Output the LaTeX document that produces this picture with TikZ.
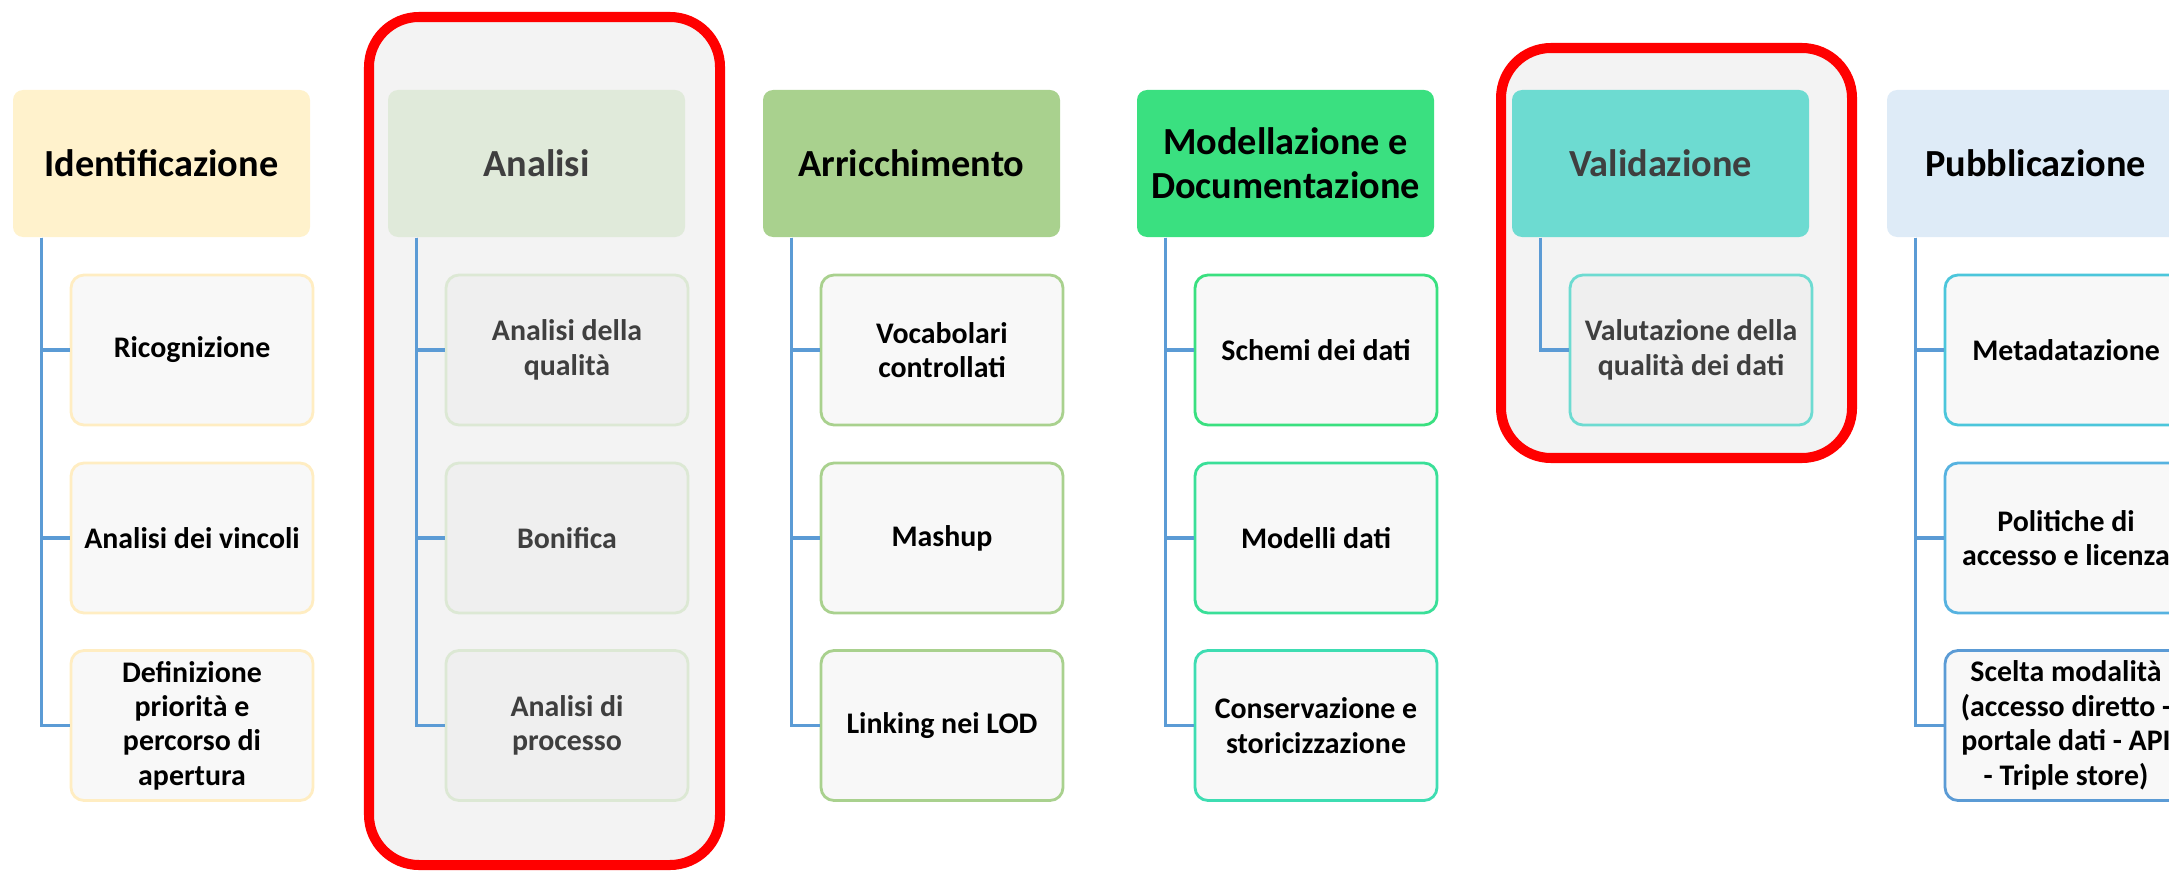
\documentclass[tikz,border=0pt]{standalone}
\usepackage{fontspec}
\setmainfont{Carlito}
\usepackage{tikz}
\usetikzlibrary{calc}

\definecolor{idfill}{HTML}{FFF2CC}
\definecolor{idline}{HTML}{FFEDC2}
\definecolor{anfill}{HTML}{E0EADA}
\definecolor{anline}{HTML}{DCE8D4}
\definecolor{arfill}{HTML}{A9D18E}
\definecolor{modfill}{HTML}{3AE080}
\definecolor{modlineb}{HTML}{3ADF98}
\definecolor{modlinec}{HTML}{3EDDB2}
\definecolor{valfill}{HTML}{6DDBD1}
\definecolor{pubfill}{HTML}{DEEBF7}
\definecolor{publinea}{HTML}{4CC6DB}
\definecolor{publineb}{HTML}{56B2E0}
\definecolor{publinec}{HTML}{5B9BD5}
\definecolor{linkblue}{HTML}{5B9BD5}
\definecolor{leafgray}{HTML}{F8F8F8}
\definecolor{dimgray}{HTML}{EFEFEF}
\definecolor{focusgray}{HTML}{F3F3F3}
\definecolor{dimtext}{HTML}{3F3F3F}
\definecolor{focusred}{HTML}{FF0000}

\tikzset{
    head/.style={rectangle, rounded corners=0.1cm, minimum width=2.97cm,
        minimum height=1.47cm, align=center, inner sep=2pt,
        font=\fontsize{10.9}{12.6}\selectfont\bfseries},
    leaf/.style={rectangle, rounded corners=0.13cm, draw, line width=0.8pt,
        fill=leafgray, minimum width=2.42cm, minimum height=1.50cm,
        align=center, inner sep=2pt,
        font=\fontsize{8.5}{9.8}\selectfont\bfseries},
    link/.style={draw=linkblue, line width=0.9pt},
    focus/.style={draw=focusred, line width=2.85pt, fill=focusgray,
        rounded corners=0.5cm}
}

\begin{document}
\begin{tikzpicture}
        \useasboundingbox (0,0) rectangle (21.69,-8.72);
        \clip (0,0) rectangle (21.69,-8.72);

        % Highlighted phases
        \draw[focus] (3.69,-0.17) rectangle (7.20,-8.65);
        \draw[focus] (15.01,-0.48) rectangle (18.52,-4.58);

        % Identificazione
        \node[head, fill=idfill] (idn) at (1.615,-1.635) {Identificazione};
        \node[leaf, draw=idline] (idn1) at (1.92,-3.50) {Ricognizione};
        \node[leaf, draw=idline] (idn2) at (1.92,-5.38) {Analisi dei vincoli};
        \node[leaf, draw=idline] (idn3) at (1.92,-7.255) {Definizione\\priorità e\\percorso di\\apertura};
        \draw[link] (idn.south west) ++(0.29,0) |- (idn1.west);
        \draw[link] (idn.south west) ++(0.29,0) |- (idn2.west);
        \draw[link] (idn.south west) ++(0.29,0) |- (idn3.west);

        % Analisi
        \node[head, fill=anfill, text=dimtext] (ana) at (5.365,-1.635) {Analisi};
        \node[leaf, draw=anline, fill=dimgray, text=dimtext] (ana1) at (5.67,-3.50) {Analisi della\\qualità};
        \node[leaf, draw=anline, fill=dimgray, text=dimtext] (ana2) at (5.67,-5.38) {Bonifica};
        \node[leaf, draw=anline, fill=dimgray, text=dimtext] (ana3) at (5.67,-7.255) {Analisi di\\processo};
        \draw[link] (ana.south west) ++(0.29,0) |- (ana1.west);
        \draw[link] (ana.south west) ++(0.29,0) |- (ana2.west);
        \draw[link] (ana.south west) ++(0.29,0) |- (ana3.west);

        % Arricchimento
        \node[head, fill=arfill] (arr) at (9.115,-1.635) {Arricchimento};
        \node[leaf, draw=arfill] (arr1) at (9.42,-3.50) {Vocabolari\\controllati};
        \node[leaf, draw=arfill] (arr2) at (9.42,-5.38) {Mashup};
        \node[leaf, draw=arfill] (arr3) at (9.42,-7.255) {Linking nei LOD};
        \draw[link] (arr.south west) ++(0.29,0) |- (arr1.west);
        \draw[link] (arr.south west) ++(0.29,0) |- (arr2.west);
        \draw[link] (arr.south west) ++(0.29,0) |- (arr3.west);

        % Modellazione e Documentazione
        \node[head, fill=modfill] (mod) at (12.855,-1.635) {Modellazione e\\Documentazione};
        \node[leaf, draw=modfill] (mod1) at (13.16,-3.50) {Schemi dei dati};
        \node[leaf, draw=modlineb] (mod2) at (13.16,-5.38) {Modelli dati};
        \node[leaf, draw=modlinec] (mod3) at (13.16,-7.255) {Conservazione e\\storicizzazione};
        \draw[link] (mod.south west) ++(0.29,0) |- (mod1.west);
        \draw[link] (mod.south west) ++(0.29,0) |- (mod2.west);
        \draw[link] (mod.south west) ++(0.29,0) |- (mod3.west);

        % Validazione
        \node[head, fill=valfill, text=dimtext] (val) at (16.605,-1.635) {Validazione};
        \node[leaf, draw=valfill, fill=dimgray, text=dimtext] (val1) at (16.91,-3.50) {Valutazione della\\qualità dei dati};
        \draw[link] (val.south west) ++(0.29,0) |- (val1.west);

        % Pubblicazione
        \node[head, fill=pubfill] (pub) at (20.355,-1.635) {Pubblicazione};
        \node[leaf, draw=publinea] (pub1) at (20.66,-3.50) {Metadatazione};
        \node[leaf, draw=publineb] (pub2) at (20.66,-5.38) {Politiche di\\accesso e licenza};
        \node[leaf, draw=publinec] (pub3) at (20.66,-7.255) {Scelta modalità\\(accesso diretto -\\portale dati - API\\- Triple store)};
        \draw[link] (pub.south west) ++(0.29,0) |- (pub1.west);
        \draw[link] (pub.south west) ++(0.29,0) |- (pub2.west);
        \draw[link] (pub.south west) ++(0.29,0) |- (pub3.west);
    \end{tikzpicture}
\end{document}
